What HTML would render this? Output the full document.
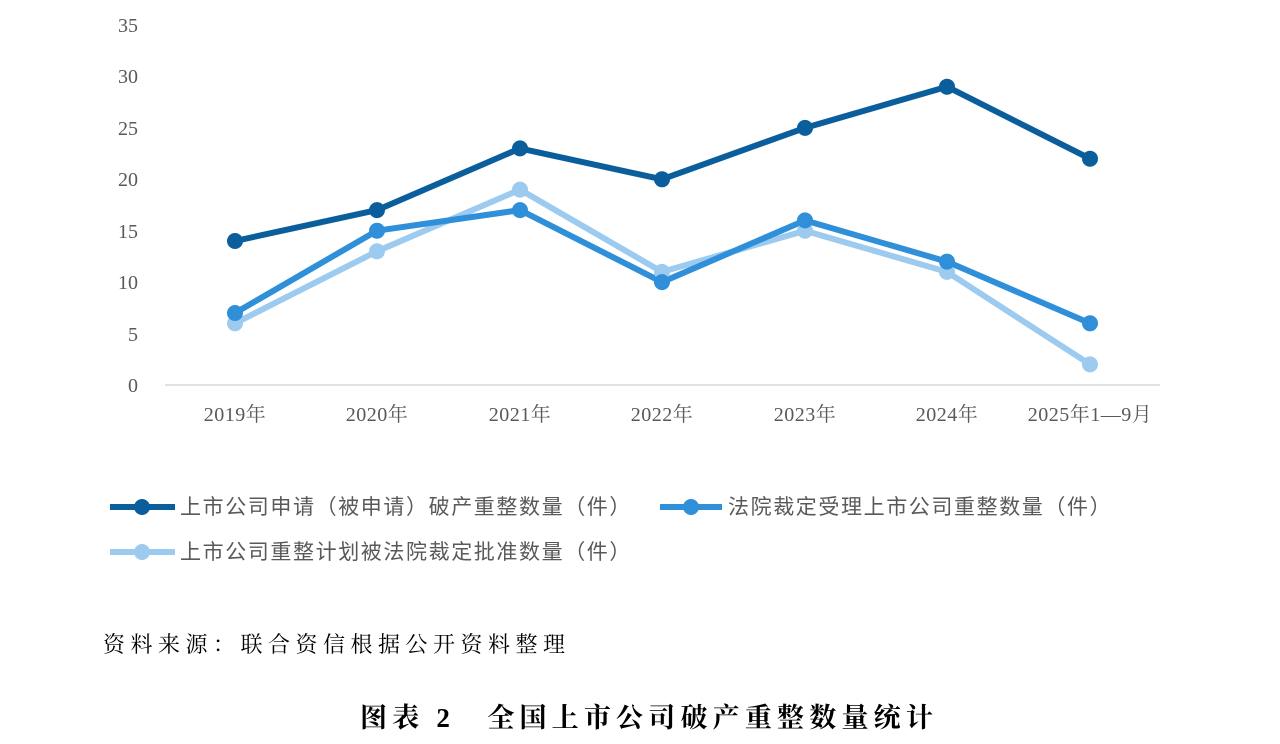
<!DOCTYPE html>
<html><head><meta charset="utf-8"><style>
body{margin:0;background:#fff;width:1280px;height:739px;overflow:hidden}
</style></head><body>
<svg width="1280" height="739" xmlns="http://www.w3.org/2000/svg">
<g font-family="Liberation Serif, Noto Serif CJK SC, serif" font-size="20" fill="#595959" text-anchor="end">
<text x="138" y="392">0</text><text x="138" y="341">5</text><text x="138" y="289">10</text>
<text x="138" y="238">15</text><text x="138" y="186">20</text><text x="138" y="135">25</text>
<text x="138" y="83">30</text><text x="138" y="32">35</text>
</g>
<line x1="165" y1="385" x2="1160" y2="385" stroke="#d9d9d9" stroke-width="1.5"/>
<g font-family="Liberation Serif, Noto Serif CJK SC, serif" font-size="20" fill="#595959" text-anchor="middle" letter-spacing="0.5">
<text x="235" y="421">2019年</text><text x="377" y="421">2020年</text><text x="520" y="421">2021年</text>
<text x="662" y="421">2022年</text><text x="805" y="421">2023年</text><text x="947" y="421">2024年</text>
<text x="1090" y="421">2025年1—9月</text>
</g>
<g fill="none" stroke-width="6" stroke-linejoin="round">
<polyline stroke="#9dcbef" points="235,323.3 377,251.3 520,189.6 662,271.9 805,230.7 947,271.9 1090,364.4"/>
<polyline stroke="#2f8fd9" points="235,313 377,230.7 520,210.1 662,282.1 805,220.4 947,261.6 1090,323.3"/>
<polyline stroke="#0b5e9c" points="235,241 377,210.1 520,148.4 662,179.3 805,127.9 947,86.7 1090,158.7"/>
</g>
<g fill="#9dcbef"><circle cx="235" cy="323.3" r="8"/><circle cx="377" cy="251.3" r="8"/><circle cx="520" cy="189.6" r="8"/><circle cx="662" cy="271.9" r="8"/><circle cx="805" cy="230.7" r="8"/><circle cx="947" cy="271.9" r="8"/><circle cx="1090" cy="364.4" r="8"/></g>
<g fill="#2f8fd9"><circle cx="235" cy="313" r="8"/><circle cx="377" cy="230.7" r="8"/><circle cx="520" cy="210.1" r="8"/><circle cx="662" cy="282.1" r="8"/><circle cx="805" cy="220.4" r="8"/><circle cx="947" cy="261.6" r="8"/><circle cx="1090" cy="323.3" r="8"/></g>
<g fill="#0b5e9c"><circle cx="235" cy="241" r="8"/><circle cx="377" cy="210.1" r="8"/><circle cx="520" cy="148.4" r="8"/><circle cx="662" cy="179.3" r="8"/><circle cx="805" cy="127.9" r="8"/><circle cx="947" cy="86.7" r="8"/><circle cx="1090" cy="158.7" r="8"/></g>
<g stroke-width="6">
<line x1="110" y1="507" x2="175" y2="507" stroke="#0b5e9c"/><circle cx="142" cy="507" r="8" fill="#0b5e9c"/>
<line x1="660" y1="507" x2="722" y2="507" stroke="#2f8fd9"/><circle cx="691" cy="507" r="8" fill="#2f8fd9"/>
<line x1="110" y1="552" x2="175" y2="552" stroke="#9dcbef"/><circle cx="142" cy="552" r="8" fill="#9dcbef"/>
</g>
<g font-family="Liberation Sans, Noto Sans CJK SC, sans-serif" font-size="21" fill="#595959" letter-spacing="1.6">
<text x="180" y="514">上市公司申请（被申请）破产重整数量（件）</text>
<text x="728" y="514">法院裁定受理上市公司重整数量（件）</text>
<text x="180" y="559">上市公司重整计划被法院裁定批准数量（件）</text>
</g>
<text x="103" y="652" font-family="Liberation Serif, Noto Serif CJK SC, serif" font-size="22" fill="#000" letter-spacing="5.5">资料来源：联合资信根据公开资料整理</text>
<text x="360" y="727" font-family="Liberation Serif, Noto Serif CJK SC, serif" font-size="27" font-weight="bold" fill="#000" letter-spacing="5.2">图表 2　全国上市公司破产重整数量统计</text>
</svg>
</body></html>
